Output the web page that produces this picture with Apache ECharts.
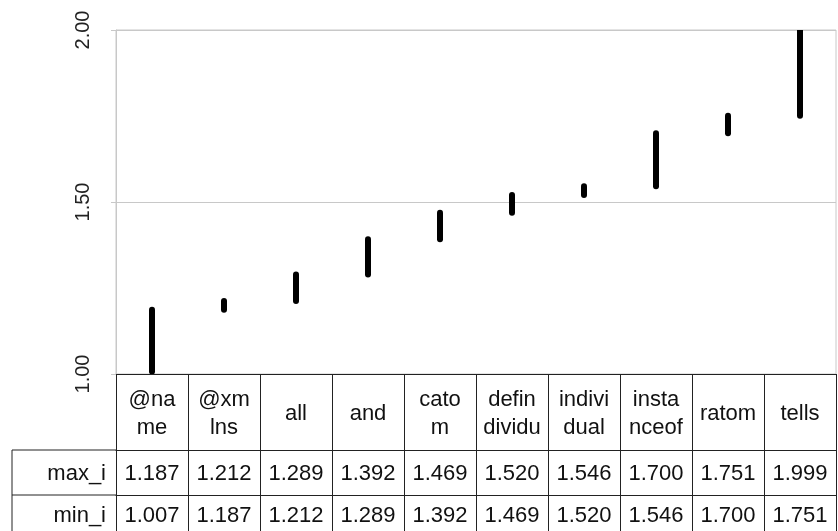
<!DOCTYPE html>
<html>
<head>
<meta charset="utf-8">
<script src="https://cdn.jsdelivr.net/npm/echarts@6/dist/echarts.min.js"></script>
<style>html,body{margin:0;padding:0;background:#fff;}#c{width:838px;height:531px;}</style>
</head>
<body>
<div id="c"></div>
<script>
// Data
const categories = ['@name', '@xmlns', 'all', 'and', 'catom', 'defindividu', 'individual', 'instanceof', 'ratom', 'tells'];
const headerLabels = ['@na\nme', '@xm\nlns', 'all', 'and', 'cato\nm', 'defin\ndividu', 'indivi\ndual', 'insta\nnceof', 'ratom', 'tells'];
const maxVals = [1.187, 1.212, 1.289, 1.392, 1.469, 1.520, 1.546, 1.700, 1.751, 1.999];
const minVals = [1.007, 1.187, 1.212, 1.289, 1.392, 1.469, 1.520, 1.546, 1.700, 1.751];
const rowNames = ['max_i', 'min_i'];
const yTicks = [1.0, 1.5, 2.0];

const FONT = 'Liberation Sans, Arial, sans-serif';
const TXT = '#111';
const LINE = '#222';
const GRIDC = '#c8c8c8';

const chart = echarts.init(document.getElementById('c'), null, {renderer: 'canvas'});
const seriesData = categories.map((c, i) => [i, minVals[i], maxVals[i]]);

chart.setOption({
  animation: false,
  backgroundColor: '#fff',
  grid: {left: 116, right: 2, top: 30, bottom: 157, show: true, borderColor: GRIDC, borderWidth: 1},
  xAxis: [
    {
      type: 'category', data: categories, position: 'bottom', boundaryGap: true,
      axisLine: {show: true, lineStyle: {color: LINE, width: 1}},
      axisTick: {show: true, interval: 0, length: 160, inside: false, lineStyle: {color: LINE, width: 1}},
      axisLabel: {interval: 0, margin: 40, verticalAlign: 'middle', fontFamily: FONT, fontSize: 22, lineHeight: 28, color: TXT,
        formatter: (v, i) => headerLabels[i]},
      splitLine: {show: false}
    },
    {
      type: 'category', data: categories, position: 'bottom', offset: 76, boundaryGap: true,
      axisLine: {show: true, lineStyle: {color: LINE, width: 1}},
      axisTick: {show: false},
      axisLabel: {interval: 0, margin: 24, verticalAlign: 'middle', fontFamily: FONT, fontSize: 22, color: TXT,
        formatter: (v, i) => maxVals[i].toFixed(3)},
      splitLine: {show: false}
    },
    {
      type: 'category', data: categories, position: 'bottom', offset: 121, boundaryGap: true,
      axisLine: {show: true, lineStyle: {color: LINE, width: 1}},
      axisTick: {show: false},
      axisLabel: {interval: 0, margin: 21, verticalAlign: 'middle', fontFamily: FONT, fontSize: 22, color: TXT,
        formatter: (v, i) => minVals[i].toFixed(3)},
      splitLine: {show: false}
    }
  ],
  yAxis: {
    type: 'value', min: yTicks[0], max: yTicks[yTicks.length - 1], interval: 0.5,
    axisLine: {show: true, lineStyle: {color: GRIDC}},
    axisTick: {show: true, length: 5, lineStyle: {color: GRIDC}},
    axisLabel: {rotate: 90, margin: 23, fontFamily: FONT, fontSize: 20, color: '#222', formatter: v => v.toFixed(2)},
    splitLine: {show: true, lineStyle: {color: GRIDC, width: 1}}
  },
  series: [{
    type: 'custom',
    xAxisIndex: 0,
    clip: true,
    data: seriesData,
    encode: {x: 0, y: [1, 2]},
    renderItem: function (params, api) {
      const lo = api.coord([api.value(0), api.value(1)]);
      const hi = api.coord([api.value(0), api.value(2)]);
      return {
        type: 'line',
        shape: {x1: lo[0], y1: lo[1], x2: hi[0], y2: hi[1]},
        style: {stroke: '#000', lineWidth: 6, lineCap: 'round'}
      };
    }
  }],
  graphic: [
    {type: 'line', shape: {x1: 12, y1: 450, x2: 116, y2: 450}, style: {stroke: LINE, lineWidth: 1}},
    {type: 'line', shape: {x1: 12, y1: 495, x2: 116, y2: 495}, style: {stroke: LINE, lineWidth: 1}},
    {type: 'line', shape: {x1: 12, y1: 450, x2: 12, y2: 531}, style: {stroke: LINE, lineWidth: 1}},
    {type: 'text', x: 106, y: 474, style: {text: rowNames[0], textAlign: 'right', textVerticalAlign: 'middle', font: '22px ' + FONT, fill: TXT}},
    {type: 'text', x: 106, y: 516, style: {text: rowNames[1], textAlign: 'right', textVerticalAlign: 'middle', font: '22px ' + FONT, fill: TXT}}
  ]
});
</script>
</body>
</html>
